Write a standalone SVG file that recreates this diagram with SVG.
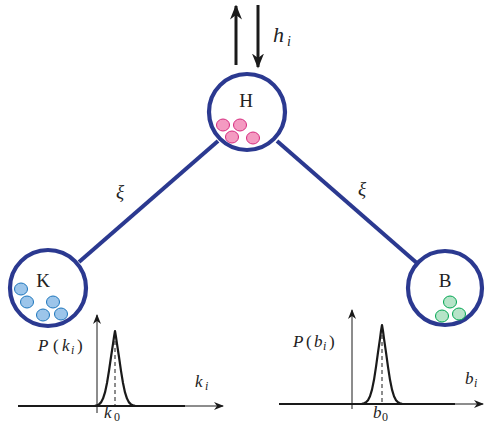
<svg xmlns="http://www.w3.org/2000/svg" width="485" height="423" viewBox="0 0 485 423">
<style>
.node{fill:#fff;stroke:#2b3990;stroke-width:4.2}
.edge{stroke:#2b3990;stroke-width:4;fill:none}
.lbl{font-family:"Liberation Serif","DejaVu Serif",serif;fill:#222}
.it{font-style:italic}
.pink{fill:#f49ac1;stroke:#d62a7e;stroke-width:1}
.blue{fill:#9cc5ea;stroke:#1c75bc;stroke-width:1}
.green{fill:#b6e4c8;stroke:#00a651;stroke-width:1}
.axis{stroke:#1a1a1a;stroke-width:1;fill:none}
.base{stroke:#1a1a1a;stroke-width:2;fill:none}
.curve{stroke:#1a1a1a;stroke-width:2.2;fill:none;stroke-linejoin:round}
.dash{stroke:#1a1a1a;stroke-width:1;stroke-dasharray:4 3}
</style>
<defs>
<marker id="ah" viewBox="0 0 10 10" refX="9" refY="5" markerWidth="10" markerHeight="10" markerUnits="userSpaceOnUse" orient="auto"><path d="M0,1 L10,5 L0,9 L3,5 Z" fill="#1a1a1a"/></marker>
<marker id="bh" viewBox="0 0 10 10" refX="9" refY="5" markerWidth="15" markerHeight="15" markerUnits="userSpaceOnUse" orient="auto"><path d="M0,1 L10,5 L0,9 L3,5 Z" fill="#1a1a1a"/></marker>
</defs>
<g id="connectors">
<line class="edge" x1="218" y1="141" x2="79" y2="262"/>
<line class="edge" x1="277" y1="141" x2="418" y2="264"/>
<text class="lbl it" x="120" y="198" font-size="19" text-anchor="middle">ξ</text>
<text class="lbl it" x="362" y="195" font-size="19" text-anchor="middle">ξ</text>
</g>
<g id="flux">
<line x1="236" y1="65" x2="236" y2="6" stroke="#1a1a1a" stroke-width="3" marker-end="url(#bh)"/>
<line x1="258" y1="5" x2="258" y2="67" stroke="#1a1a1a" stroke-width="3" marker-end="url(#bh)"/>
<text class="lbl it" x="273" y="42" font-size="22">h</text>
<text class="lbl it" x="287" y="46" font-size="14">i</text>
</g>
<g id="node-H">
<circle class="node" cx="247" cy="112" r="38"/>
<text class="lbl" x="246" y="107" font-size="19" text-anchor="middle">H</text>
<ellipse class="pink" cx="223" cy="125" rx="6.5" ry="6"/>
<ellipse class="pink" cx="240" cy="125" rx="6.5" ry="6"/>
<ellipse class="pink" cx="232" cy="137" rx="6.5" ry="6"/>
<ellipse class="pink" cx="253" cy="138" rx="6.5" ry="6"/>
</g>
<g id="node-K">
<circle class="node" cx="48" cy="288" r="38"/>
<text class="lbl" x="43" y="287" font-size="19" text-anchor="middle">K</text>
<ellipse class="blue" cx="21" cy="289" rx="6.5" ry="6"/>
<ellipse class="blue" cx="27" cy="302" rx="6.5" ry="6"/>
<ellipse class="blue" cx="53" cy="302" rx="6.5" ry="6"/>
<ellipse class="blue" cx="43" cy="315" rx="6.5" ry="6"/>
<ellipse class="blue" cx="61" cy="314" rx="6.5" ry="6"/>
</g>
<g id="node-B">
<circle class="node" cx="445" cy="288" r="37"/>
<text class="lbl" x="445" y="287" font-size="19" text-anchor="middle">B</text>
<ellipse class="green" cx="450" cy="302" rx="6.5" ry="6"/>
<ellipse class="green" cx="442" cy="316" rx="6.5" ry="6"/>
<ellipse class="green" cx="459" cy="314" rx="6.5" ry="6"/>
</g>
<g id="plot-k">
<line class="base" x1="18" y1="406" x2="185" y2="406"/>
<line class="axis" x1="185" y1="406" x2="223" y2="406" marker-end="url(#ah)"/>
<line class="axis" x1="97" y1="413" x2="97" y2="315" marker-end="url(#ah)"/>
<polyline class="curve" points="95,405.8 97,405.3 99,404.4 101,402.4 103,398.6 105,392.4 107,383 109,370.8 111,357 113,343.9 114,337 115,331 116,337 117,343.9 119,357 121,370.8 123,383 125,392.4 127,398.6 129,402.4 131,404.4 133,405.3 135,405.8"/>
<line class="dash" x1="115" y1="334" x2="115" y2="406"/>
<text class="lbl it" x="38" y="351" font-size="17">P</text>
<text class="lbl" x="53" y="351" font-size="17">(</text>
<text class="lbl it" x="62" y="351" font-size="17">k</text>
<text class="lbl it" x="71" y="354" font-size="12">i</text>
<text class="lbl" x="77" y="351" font-size="17">)</text>
<text class="lbl it" x="195" y="387" font-size="17">k</text>
<text class="lbl it" x="205" y="390" font-size="12">i</text>
<text class="lbl it" x="104" y="418" font-size="17">k</text>
<text class="lbl" x="114" y="421" font-size="12">0</text>
</g>
<g id="plot-b">
<line class="base" x1="279" y1="404" x2="455" y2="404"/>
<line class="axis" x1="455" y1="404" x2="483" y2="404" marker-end="url(#ah)"/>
<line class="axis" x1="352" y1="409" x2="352" y2="310" marker-end="url(#ah)"/>
<polyline class="curve" points="362,403.8 364,403.3 366,402.3 368,400.2 370,396.3 372,389.6 374,379.8 376,366.9 378,352.4 380,338.6 381,331 382,325 383,331 384,338.6 386,352.4 388,366.9 390,379.8 392,389.6 394,396.3 396,400.2 398,402.3 400,403.3 402,403.8"/>
<line class="dash" x1="382" y1="328" x2="382" y2="404"/>
<text class="lbl it" x="293" y="347" font-size="17">P</text>
<text class="lbl" x="306" y="347" font-size="17">(</text>
<text class="lbl it" x="314" y="347" font-size="17">b</text>
<text class="lbl it" x="323" y="350" font-size="12">i</text>
<text class="lbl" x="329" y="347" font-size="17">)</text>
<text class="lbl it" x="465" y="384" font-size="17">b</text>
<text class="lbl it" x="474" y="387" font-size="12">i</text>
<text class="lbl it" x="373" y="418" font-size="17">b</text>
<text class="lbl" x="382" y="421" font-size="12">0</text>
</g>
</svg>
